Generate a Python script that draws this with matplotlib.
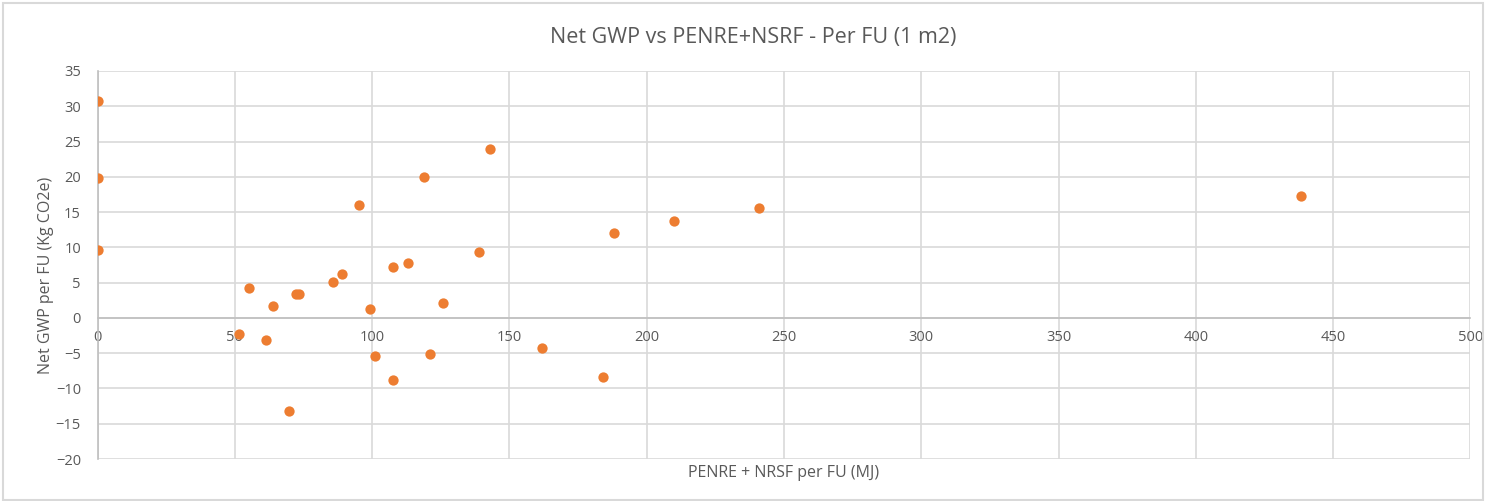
import matplotlib.pyplot as plt
from matplotlib.patches import Rectangle

# data
penre_nrsf = [0, 0, 0, 51.4, 55.2, 61.4, 63.9, 69.6, 72.2, 73.4, 85.8, 88.9,
              95.1, 99.2, 101.0, 107.7, 107.7, 113.0, 118.8, 121.0, 125.8,
              138.8, 142.9, 162.0, 184.1, 187.9, 209.9, 240.8, 438.4]
net_gwp = [30.8, 19.8, 9.6, -2.3, 4.2, -3.2, 1.7, -13.2, 3.45, 3.45, 5.1, 6.25,
           15.95, 1.2, -5.4, 7.15, -8.85, 7.8, 20.0, -5.05, 2.1,
           9.4, 24.0, -4.25, -8.4, 12.0, 13.7, 15.6, 17.25]

title = "Net GWP vs PENRE+NSRF - Per FU (1 m2)"
xlabel = "PENRE + NRSF per FU (MJ)"
ylabel = "Net GWP per FU (Kg CO2e)"
xticks = list(range(0, 501, 50))
yticks = list(range(-20, 36, 5))

txt = "#595959"
grid = "#d9d9d9"
plt.rcParams['font.family'] = ['Open Sans', 'DejaVu Sans']

fig = plt.figure(figsize=(14.86, 5.01), dpi=100)
ax = fig.add_axes([0.0657, 0.0838, 0.9238, 0.7745])

ax.scatter(penre_nrsf, net_gwp, s=55, color="#ED7D31", zorder=3, linewidths=0)

ax.set_xlim(0, 500)
ax.set_ylim(-20, 35)
ax.set_xticks(xticks)
ax.set_yticks(yticks)
ax.grid(True, color=grid, linewidth=1.2, zorder=0)
ax.set_axisbelow(True)

for s in ['top', 'right']:
    ax.spines[s].set_visible(False)
ax.spines['left'].set_color("#bfbfbf")
ax.spines['bottom'].set_color("#bfbfbf")
ax.spines['bottom'].set_position(('data', 0))
ax.spines['left'].set_linewidth(1.2)
ax.spines['bottom'].set_linewidth(1.2)

ax.tick_params(axis='both', length=0, labelsize=10.5, labelcolor=txt)
ax.tick_params(axis='x', pad=9)
ax.tick_params(axis='y', pad=12)

fig.text(0.507, 0.925, title, ha='center', va='center', fontsize=15.5, color=txt)
fig.text(0.527, 0.056, xlabel, ha='center', va='center', fontsize=11.5, color=txt)
fig.text(0.031, 0.451, ylabel, ha='center', va='center', rotation=90, fontsize=11.5, color=txt)

fig.patches.append(Rectangle((0.002, 0.002), 0.996, 0.993, transform=fig.transFigure,
                             fill=False, edgecolor="#d9d9d9", linewidth=1.5))

fig.savefig("out.png", dpi=100)
